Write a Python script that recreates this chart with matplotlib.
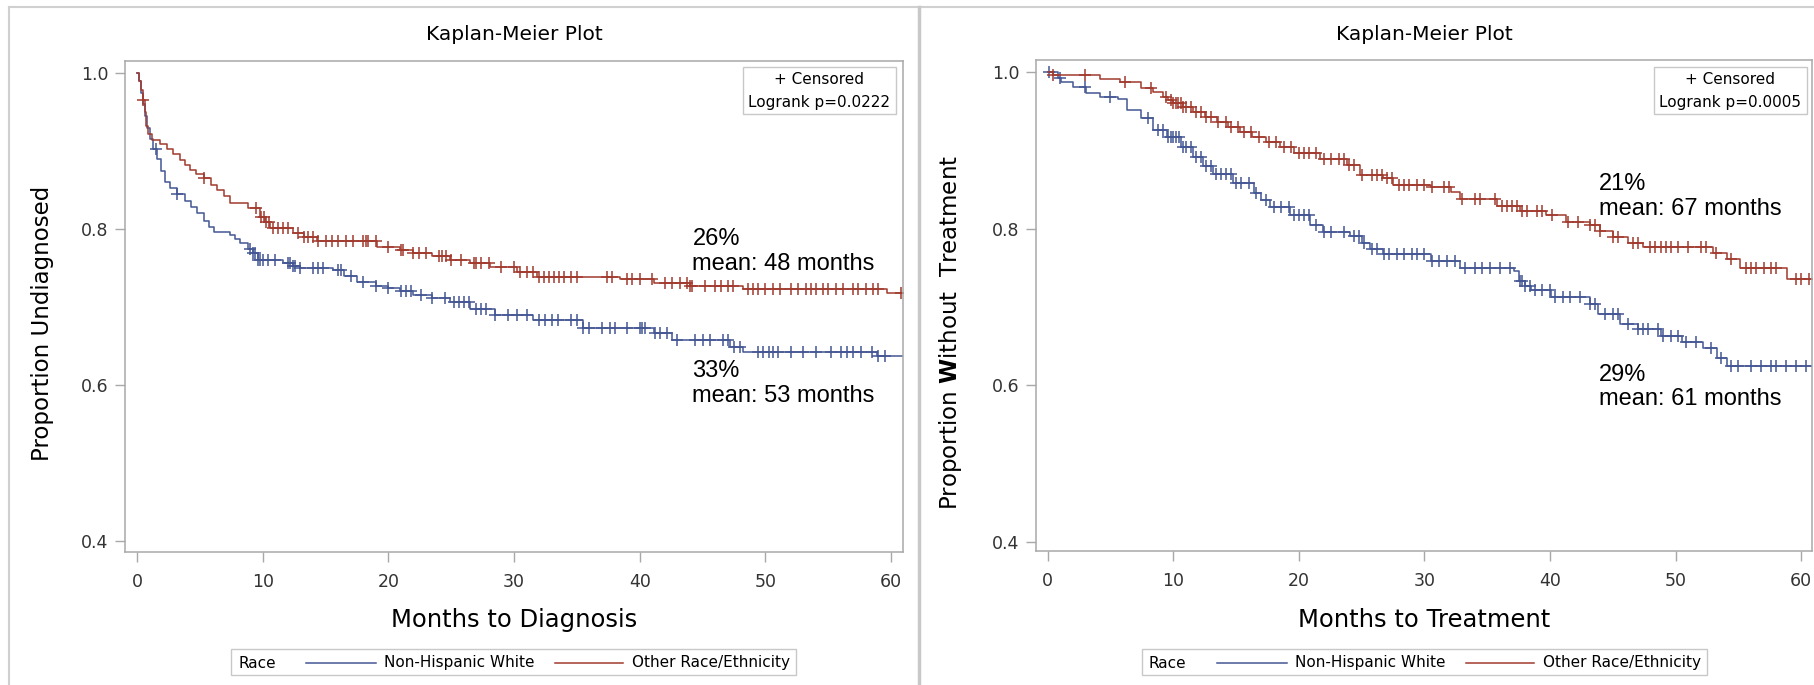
import numpy as np
import matplotlib
matplotlib.use("Agg")
import matplotlib.pyplot as plt
from matplotlib.patches import Rectangle
from matplotlib.lines import Line2D

plt.rcParams['font.family'] = ['DejaVu Sans']
plt.rcParams['mathtext.fontset'] = 'dejavusans'

W, H = 1815, 685
BLUE = '#445694'
RED = '#a23a2e'
GRID = '#a8a8a8'

# ---- data ----
# left panel: months to diagnosis
diag_nhw_t = [0, 0.15, 0.3, 0.45, 0.6, 0.8, 1.0, 1.3, 1.6, 1.9, 2.2, 2.6, 3.2, 3.8, 4.3, 4.8,
              5.3, 5.7, 6.1, 7.4, 7.8, 8.2, 8.8, 9.2, 9.6, 11.6, 12.4, 13.0, 15.6, 16.5, 17.5,
              19.0, 20.0, 20.9, 22.0, 23.5, 24.9, 26.5, 28.5, 31.5, 35.5, 41.1, 42.6, 47.2,
              48.2, 58.9]
diag_nhw_s = [1.0, 0.99, 0.975, 0.96, 0.945, 0.93, 0.915, 0.903, 0.89, 0.875, 0.86, 0.852,
              0.845, 0.836, 0.828, 0.82, 0.81, 0.802, 0.796, 0.792, 0.787, 0.782, 0.775, 0.769,
              0.76, 0.757, 0.753, 0.75, 0.747, 0.74, 0.732, 0.727, 0.724, 0.72, 0.716, 0.711,
              0.706, 0.697, 0.69, 0.683, 0.673, 0.667, 0.658, 0.649, 0.642, 0.637]
diag_nhw_cens = [1.5, 3.2, 9.0, 9.2, 9.4, 9.6, 9.8, 10.0, 10.4, 11.0, 12.0, 12.2, 12.4, 12.6,
                 13.0, 14.0, 14.4, 14.8, 16.0, 16.2, 17.0, 18.0, 19.0, 20.0, 21.0, 21.4, 21.8,
                 22.6, 23.5, 24.5, 25.2, 25.6, 26.0, 26.4, 27.0, 27.4, 27.8, 28.5, 29.5, 30.2,
                 31.0, 32.0, 32.5, 33.0, 33.5, 34.5, 35.0, 35.5, 36.0, 37.0, 37.6, 38.0, 39.0,
                 40.0, 40.2, 40.4, 41.2, 41.6, 42.2, 43.0, 44.4, 45.0, 45.6, 46.6, 47.0, 47.5,
                 48.0, 49.4, 49.8, 50.3, 50.6, 51.0, 52.0, 53.0, 54.0, 55.2, 56.0, 56.5, 57.0,
                 57.6, 58.5, 59.0, 59.5]

diag_oth_t = [0, 0.15, 0.3, 0.45, 0.6, 0.75, 0.9, 1.2, 1.8, 2.4, 2.9, 3.4, 3.8, 4.2, 4.7, 5.3,
              5.9, 6.4, 6.9, 7.4, 8.8, 9.8, 10.2, 10.6, 12.4, 13.3, 14.3, 19.1, 20.9, 22.0,
              23.5, 24.9, 26.5, 28.1, 30.2, 31.8, 38.4, 41.1, 44.0, 48.2, 59.7]
diag_oth_s = [1.0, 0.99, 0.978, 0.965, 0.95, 0.932, 0.922, 0.914, 0.909, 0.903, 0.896, 0.888,
              0.882, 0.876, 0.87, 0.865, 0.857, 0.85, 0.842, 0.833, 0.827, 0.816, 0.809, 0.801,
              0.795, 0.79, 0.784, 0.777, 0.773, 0.769, 0.765, 0.76, 0.756, 0.751, 0.745, 0.738,
              0.736, 0.731, 0.727, 0.723, 0.718]
diag_oth_cens = [0.5, 5.3, 9.5, 9.9, 10.1, 10.3, 10.5, 10.8, 11.2, 11.6, 12.0, 12.8, 13.3,
                 13.6, 14.0, 14.4, 15.0, 15.5, 16.0, 16.6, 17.2, 18.0, 18.2, 18.4, 19.0, 20.0,
                 21.0, 21.2, 22.0, 22.4, 23.0, 24.0, 24.3, 24.6, 25.0, 25.8, 26.8, 27.0, 27.4,
                 28.0, 29.0, 30.0, 30.5, 31.0, 31.5, 32.0, 32.4, 32.8, 33.2, 33.6, 34.0, 34.5,
                 35.0, 37.4, 37.8, 39.0, 39.4, 40.0, 41.0, 42.0, 42.6, 43.2, 43.8, 44.0, 44.2,
                 45.2, 46.0, 46.5, 47.0, 47.4, 48.6, 49.0, 49.4, 50.0, 50.6, 51.2, 52.0, 52.6,
                 53.2, 53.6, 54.0, 54.6, 55.0, 55.6, 56.2, 57.0, 57.4, 58.0, 58.6, 59.0, 60.8]

# right panel: months to treatment
treat_nhw_t = [0, 0.8, 1.1, 2.0, 3.1, 4.2, 5.6, 6.3, 7.4, 8.4, 9.5, 10.6, 11.6, 12.4, 13.2,
               14.8, 16.4, 17.0, 17.7, 19.3, 20.9, 21.9, 24.1, 25.0, 25.7, 26.7, 30.5, 32.8,
               37.1, 37.5, 38.0, 38.5, 40.1, 43.2, 43.8, 45.6, 47.0, 48.8, 50.5, 52.2, 53.3,
               54.1]
treat_nhw_s = [1.0, 0.992, 0.987, 0.981, 0.973, 0.968, 0.965, 0.951, 0.941, 0.926, 0.917,
               0.904, 0.891, 0.88, 0.87, 0.858, 0.845, 0.836, 0.827, 0.817, 0.804, 0.795, 0.791,
               0.781, 0.774, 0.768, 0.759, 0.75, 0.746, 0.733, 0.727, 0.721, 0.712, 0.704,
               0.691, 0.678, 0.672, 0.663, 0.655, 0.647, 0.635, 0.624]
treat_nhw_cens = [0.1, 1.0, 3.0, 5.0, 8.0, 8.8, 9.2, 9.6, 9.8, 10.0, 10.2, 10.5, 10.8, 11.0,
                  11.4, 11.8, 12.2, 12.6, 13.0, 13.4, 13.8, 14.2, 14.6, 15.0, 15.4, 16.0, 16.6,
                  17.4, 18.0, 18.6, 19.2, 19.6, 20.0, 20.4, 20.8, 21.4, 22.0, 22.6, 23.6, 24.4,
                  24.8, 25.2, 25.8, 26.2, 26.8, 27.2, 27.8, 28.4, 29.0, 29.4, 30.0, 30.6, 31.2,
                  31.8, 32.4, 33.2, 34.0, 34.6, 35.2, 36.0, 36.8, 37.6, 37.8, 38.0, 38.4, 38.8,
                  39.4, 40.0, 40.4, 41.0, 41.6, 42.4, 43.2, 43.6, 44.4, 45.0, 45.4, 46.2, 47.0,
                  47.4, 47.8, 48.6, 49.0, 49.6, 50.2, 50.8, 51.6, 52.8, 53.6, 54.4, 55.0, 56.0,
                  56.8, 57.6, 58.0, 58.8, 59.6, 60.4]

treat_oth_t = [0, 0.4, 4.2, 5.8, 7.4, 8.4, 9.2, 9.6, 10.0, 10.8, 11.6, 12.5, 13.5, 14.4, 15.3,
               16.3, 17.4, 18.5, 19.6, 21.7, 23.8, 24.9, 26.7, 27.5, 30.5, 32.1, 32.8, 35.8,
               37.6, 39.7, 41.3, 43.2, 44.0, 45.0, 46.2, 47.4, 53.0, 54.1, 55.1, 58.9]
treat_oth_s = [1.0, 0.996, 0.991, 0.987, 0.979, 0.975, 0.968, 0.964, 0.96, 0.955, 0.949,
               0.943, 0.936, 0.93, 0.923, 0.917, 0.91, 0.904, 0.897, 0.889, 0.881, 0.868, 0.864,
               0.855, 0.853, 0.847, 0.838, 0.829, 0.823, 0.817, 0.808, 0.804, 0.797, 0.789,
               0.782, 0.776, 0.769, 0.761, 0.75, 0.736]
treat_oth_cens = [0.4, 3.0, 6.2, 8.2, 9.4, 9.8, 10.0, 10.2, 10.4, 10.6, 10.8, 11.0, 11.4, 11.8,
                  12.2, 12.6, 13.0, 13.6, 14.2, 14.6, 15.2, 15.6, 16.2, 16.8, 17.6, 18.2, 18.8,
                  19.4, 20.0, 20.4, 20.8, 21.4, 22.0, 22.6, 23.2, 23.6, 24.0, 24.4, 25.0, 25.8,
                  26.2, 26.6, 27.0, 27.4, 28.0, 28.4, 28.8, 29.4, 30.0, 30.6, 31.6, 32.0, 33.0,
                  34.0, 34.4, 35.6, 36.2, 36.6, 37.0, 37.4, 37.8, 38.2, 39.0, 39.4, 40.2, 41.4,
                  42.2, 43.2, 43.6, 44.0, 45.0, 45.4, 46.6, 47.0, 48.0, 48.4, 48.8, 49.2, 49.6,
                  50.2, 51.0, 52.0, 52.4, 53.2, 54.4, 55.6, 56.0, 56.4, 57.0, 57.6, 58.0, 59.6,
                  60.0, 60.6]

x_ticks = [0, 10, 20, 30, 40, 50, 60]
y_ticks = [0.4, 0.6, 0.8, 1.0]
groups = ['Non-Hispanic White', 'Other Race/Ethnicity']

panels = [
    dict(t=[diag_nhw_t, diag_oth_t], s=[diag_nhw_s, diag_oth_s],
         c=[diag_nhw_cens, diag_oth_cens], p='Logrank p=0.0222',
         xlabel='Months to Diagnosis', ylabel='Proportion Undiagnosed',
         notes=['26%\nmean: 48 months', '33%\nmean: 53 months'],
         note_x=44.2, note_y=[0.801, 0.632]),
    dict(t=[treat_nhw_t, treat_oth_t], s=[treat_nhw_s, treat_oth_s],
         c=[treat_nhw_cens, treat_oth_cens], p='Logrank p=0.0005',
         xlabel='Months to Treatment',
         ylabel=r'Proportion $\mathbf{W}$ithout  Treatment',
         notes=['21%\nmean: 67 months', '29%\nmean: 61 months'],
         note_x=43.9, note_y=[0.8705, 0.627]),
]

fig = plt.figure(figsize=(W / 100, H / 100), dpi=100)

def fx(px):
    return px / W

def fy(py):
    return 1 - py / H

# panel frames
fig.add_artist(Line2D([fx(9), fx(9)], [fy(7), 0], transform=fig.transFigure, color='#d0d0d0', lw=1.5))
fig.add_artist(Line2D([fx(9), 1], [fy(7), fy(7)], transform=fig.transFigure, color='#d0d0d0', lw=1.5))
fig.add_artist(Line2D([fx(919), fx(919)], [fy(7), 0], transform=fig.transFigure, color='#c8c8c8', lw=2.5))

axes_px = [(125, 61, 903, 552, -0.955, 60.95, 0.3859, 1.0154, 42, 0.465),
           (1036, 60, 1812, 551, -0.92, 60.86, 0.388, 1.0153, 951, 0.444)]

for k, (pan, ap) in enumerate(zip(panels, axes_px)):
    x0, y0, x1, y1, xl0, xl1, yl0, yl1, ylab_px, ylab_y = ap
    ax = fig.add_axes([fx(x0), fy(y1), (x1 - x0) / W, (y1 - y0) / H])
    ax.set_xlim(xl0, xl1)
    ax.set_ylim(yl0, yl1)
    ax.set_xticks(x_ticks)
    ax.set_yticks(y_ticks)
    ax.set_yticklabels(['%.1f' % v for v in y_ticks])
    for sp in ax.spines.values():
        sp.set_color(GRID)
        sp.set_linewidth(1.1)
    ax.tick_params(direction='out', length=7, width=1, color=GRID, labelsize=12.5,
                   labelcolor='#333333')
    ax.tick_params(axis='x', pad=8)
    ax.tick_params(axis='y', pad=5)

    for t, s, cens, col in zip(pan['t'], pan['s'], pan['c'], [BLUE, RED]):
        t = np.array(t)
        s = np.array(s)
        ax.step(np.append(t, xl1), np.append(s, s[-1]), where='post', color=col, lw=1.1)
        cens = np.array(cens)
        idx = np.searchsorted(t, cens, side='right') - 1
        ax.plot(cens, s[idx], ls='none', marker='+', ms=9, mew=1.1, color=col)

    hgt = y1 - y0
    wid = x1 - x0
    ax.text(0.5, (y1 - 35) / hgt, 'Kaplan-Meier Plot', transform=ax.transAxes,
            ha='center', va='center', fontsize=14.5)
    ax.text(0.5, (y1 - 620) / hgt, pan['xlabel'], transform=ax.transAxes,
            ha='center', va='center', fontsize=17.5)
    ax.text((ylab_px - x0) / wid, ylab_y, pan['ylabel'], transform=ax.transAxes,
            ha='center', va='center', rotation=90, fontsize=16.5)

    # censored / logrank box
    bx0, bx1 = 743 - 125 + x0, 896 - 125 + x0
    ax.add_patch(Rectangle(((bx0 - x0) / wid, (y1 - 114) / hgt), (bx1 - bx0) / wid, 47 / hgt,
                           transform=ax.transAxes, fill=False, ec='#c8c8c8', lw=1))
    ax.text(((bx0 + bx1) / 2 - x0) / wid, (y1 - 79) / hgt, '+ Censored', transform=ax.transAxes,
            ha='center', va='center', fontsize=11)
    ax.text(((bx0 + bx1) / 2 - x0) / wid, (y1 - 102) / hgt, pan['p'], transform=ax.transAxes,
            ha='center', va='center', fontsize=11)

    for note, ny in zip(pan['notes'], pan['note_y']):
        ax.text(pan['note_x'], ny, note, ha='left', va='top', fontsize=17,
                family='Liberation Sans', linespacing=1.15)

    # bottom legend
    off = x0 - 125
    fig.add_artist(Rectangle((fx(231 + off), fy(675)), (796 - 231) / W, 26 / H,
                             transform=fig.transFigure, fill=False, ec='#c8c8c8', lw=1))
    fig.text(fx(238 + off), fy(663), 'Race', ha='left', va='center', fontsize=11)
    for (l0, l1, tx), col, g in zip([(306, 376, 384), (555, 623, 632)], [BLUE, RED], groups):
        fig.add_artist(Line2D([fx(l0 + off), fx(l1 + off)], [fy(663), fy(663)],
                              transform=fig.transFigure, color=col, lw=1.1))
        fig.text(fx(tx + off), fy(663), g, ha='left', va='center', fontsize=11)

fig.savefig('out.png', dpi=100)
